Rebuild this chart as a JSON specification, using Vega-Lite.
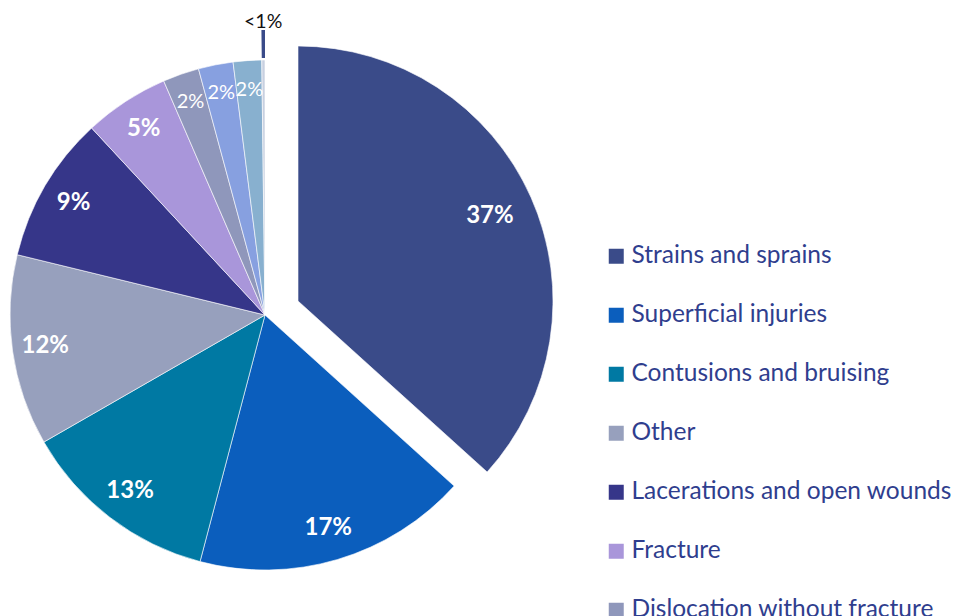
{
  "$schema": "https://vega.github.io/schema/vega-lite/v6.json",
  "width": 530,
  "height": 630,
  "padding": {"left": 0, "top": 0, "right": 426, "bottom": 0},
  "autosize": {"type": "none"},
  "background": "white",
  "config": {"view": {"stroke": null}},
  "data": {
    "values": [
      {"category": "Strains and sprains", "value": 36.7, "label": "37%"},
      {"category": "Superficial injuries", "value": 17.4, "label": "17%"},
      {"category": "Contusions and bruising", "value": 12.6, "label": "13%"},
      {"category": "Other", "value": 12.1, "label": "12%"},
      {"category": "Lacerations and open wounds", "value": 9.3, "label": "9%"},
      {"category": "Fracture", "value": 5.4, "label": "5%"},
      {"category": "Dislocation without fracture", "value": 2.3, "label": "2%"},
      {"category": "Burns", "value": 2.2, "label": "2%"},
      {"category": "Foreign body", "value": 1.8, "label": "2%"},
      {"category": "Amputation", "value": 0.2, "label": "<1%"}
    ]
  },
  "encoding": {
    "theta": {"field": "value", "type": "quantitative", "stack": true},
    "order": {"field": "value", "type": "quantitative", "sort": "descending"}
  },
  "layer": [
    {
      "mark": {"type": "arc", "outerRadius": 255, "stroke": "white", "strokeWidth": 0.6},
      "encoding": {
        "color": {
          "field": "category",
          "type": "nominal",
          "scale": {
            "domain": ["Strains and sprains", "Superficial injuries", "Contusions and bruising", "Other", "Lacerations and open wounds", "Fracture", "Dislocation without fracture", "Burns", "Foreign body", "Amputation"],
            "range": ["#3a4b89", "#0b5ebd", "#0079a3", "#97a0bd", "#363689", "#a996da", "#8f97bb", "#87a0e0", "#88b0cf", "#c8d0e0"]
          },
          "legend": {
            "title": null,
            "orient": "none",
            "legendX": 604,
            "legendY": 244,
            "padding": 0,
            "symbolType": "square",
            "symbolSize": 225,
            "symbolStrokeWidth": 0,
            "labelFont": "Lato",
            "labelFontSize": 24.5,
            "labelColor": "#2f3e8e",
            "labelOffset": 3,
            "rowPadding": 34,
            "labelLimit": 400
          }
        },
        "opacity": {"condition": {"test": "datum.category === 'Strains and sprains'", "value": 0}, "value": 1}
      }
    },
    {
      "mark": {"type": "arc", "outerRadius": 255, "stroke": "white", "strokeWidth": 0.6, "xOffset": 33, "yOffset": -14},
      "encoding": {
        "color": {"field": "category", "type": "nominal"},
        "opacity": {"condition": {"test": "datum.category === 'Strains and sprains'", "value": 1}, "value": 0}
      }
    },
    {
      "mark": {"type": "arc", "innerRadius": 257, "outerRadius": 285, "color": "#3a4b89"},
      "encoding": {
        "opacity": {"condition": {"test": "datum.category === 'Amputation'", "value": 1}, "value": 0}
      }
    },
    {
      "mark": {"type": "text", "radius": 222, "font": "Lato", "fontSize": 24, "fontWeight": "bold", "color": "white"},
      "encoding": {
        "text": {"condition": {"test": "datum.value >= 5 && datum.category !== 'Strains and sprains'", "field": "label"}, "value": ""}
      }
    },
    {
      "mark": {"type": "text", "radius": 210, "font": "Lato", "fontSize": 24, "fontWeight": "bold", "color": "white", "xOffset": 33, "yOffset": -14},
      "encoding": {
        "text": {"condition": {"test": "datum.category === 'Strains and sprains'", "field": "label"}, "value": ""}
      }
    },
    {
      "mark": {"type": "text", "radius": 226, "font": "Lato", "fontSize": 20, "color": "white"},
      "encoding": {
        "text": {"condition": {"test": "datum.value < 5 && datum.value >= 1", "field": "label"}, "value": ""}
      }
    },
    {
      "mark": {"type": "text", "radius": 293, "font": "Lato", "fontSize": 19.5, "color": "#111111"},
      "encoding": {
        "text": {"condition": {"test": "datum.value < 1", "field": "label"}, "value": ""}
      }
    }
  ]
}
